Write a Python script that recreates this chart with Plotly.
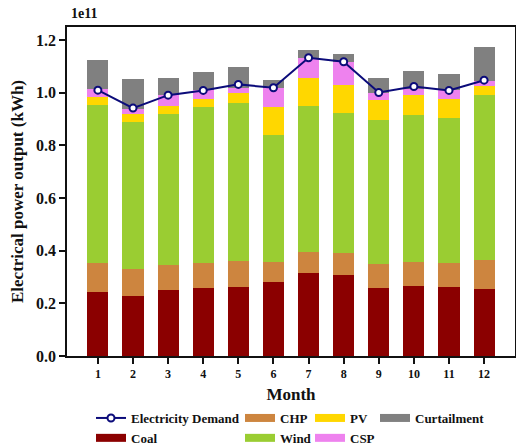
import plotly.graph_objects as go

# Monthly electricity generation by source (units of 1e11 kWh)
months = [1, 2, 3, 4, 5, 6, 7, 8, 9, 10, 11, 12]
coal = [0.242, 0.228, 0.251, 0.260, 0.263, 0.280, 0.314, 0.309, 0.257, 0.265, 0.261, 0.254]
chp = [0.110, 0.102, 0.096, 0.092, 0.098, 0.076, 0.083, 0.083, 0.093, 0.092, 0.093, 0.112]
wind = [0.600, 0.559, 0.573, 0.594, 0.602, 0.485, 0.552, 0.531, 0.547, 0.559, 0.552, 0.624]
pv = [0.032, 0.032, 0.028, 0.031, 0.036, 0.105, 0.107, 0.105, 0.074, 0.076, 0.072, 0.037]
csp = [0.030, 0.019, 0.044, 0.032, 0.020, 0.074, 0.078, 0.090, 0.030, 0.023, 0.031, 0.019]
curtailment = [0.110, 0.113, 0.066, 0.070, 0.080, 0.028, 0.029, 0.029, 0.056, 0.067, 0.064, 0.128]
demand = [1.010, 0.942, 0.991, 1.009, 1.032, 1.019, 1.133, 1.118, 1.001, 1.024, 1.009, 1.048]

y_ticks = [0.0, 0.2, 0.4, 0.6, 0.8, 1.0, 1.2]

SERIF = "Liberation Serif"

# (name, values, colour, legend column)
sources = [
    ("Coal", coal, "#8B0000", "legend"),
    ("CHP", chp, "#CD853F", "legend2"),
    ("Wind", wind, "#9ACD32", "legend2"),
    ("PV", pv, "#FFD700", "legend3"),
    ("CSP", csp, "#EE82EE", "legend3"),
    ("Curtailment", curtailment, "#808080", "legend4"),
]

fig = go.Figure()

for name, vals, color, _ in sources:
    fig.add_trace(go.Bar(
        x=months, y=vals, name=name, width=0.6,
        marker=dict(color=color, line=dict(width=0)),
        showlegend=False, legendgroup=name,
    ))

fig.add_trace(go.Scatter(
    x=months, y=demand, name="Electricity Demand", mode="lines+markers",
    line=dict(color="#0b0b7a", width=2),
    marker=dict(symbol="circle", size=7, color="white",
                line=dict(color="#0b0b7a", width=2)),
    legend="legend", legendrank=1,
))

# Wide rectangular legend keys for the stacked sources
ranks = {"Coal": 2, "CHP": 1, "Wind": 2, "PV": 1, "CSP": 2, "Curtailment": 1}
for name, vals, color, leg in sources:
    fig.add_trace(go.Scatter(
        x=[None], y=[None], name=name, mode="lines",
        line=dict(color=color, width=8),
        legend=leg, legendrank=ranks[name], legendgroup=name,
    ))

# Plot area in pixels: x 67..515, y 27..356
PL, PW, PB, PH = 67, 448, 356, 329


def px_x(px):
    return (px - PL) / PW


def px_y(py):
    return (PB - py) / PH


legend_font = dict(family=SERIF, size=13, color="#111", weight="bold")
legend_common = dict(
    xref="paper", yref="paper", yanchor="top", xanchor="left",
    orientation="v", font=legend_font, bgcolor="rgba(0,0,0,0)",
    borderwidth=0, itemwidth=30, tracegroupgap=0, itemclick=False,
)
legend_top = px_y(403)
fig.update_layout(
    barmode="stack",
    width=516, height=448,
    margin=dict(l=PL, r=516 - PL - PW, t=PB - PH, b=448 - PB, autoexpand=False),
    plot_bgcolor="white", paper_bgcolor="white",
    font=dict(family=SERIF, color="#111", weight="bold"),
    legend=dict(x=px_x(91), y=legend_top, **legend_common),
    legend2=dict(x=px_x(240), y=legend_top, **legend_common),
    legend3=dict(x=px_x(310), y=legend_top, **legend_common),
    legend4=dict(x=px_x(375), y=legend_top, **legend_common),
)

axis_line = dict(showline=True, linecolor="#111", linewidth=1.5, mirror=True,
                 ticks="outside", ticklen=6, tickwidth=1.5, tickcolor="#111",
                 showgrid=False, zeroline=False)

fig.update_xaxes(
    range=[0.12, 12.88], tickvals=months, ticktext=[str(m) for m in months],
    tickfont=dict(family=SERIF, size=12, weight="bold"),
    title=dict(text="Month", font=dict(family=SERIF, size=17, weight="bold"), standoff=8),
    **axis_line,
)
fig.update_yaxes(
    range=[0, 1.25], tickvals=y_ticks, ticktext=[f"{v:.1f}" for v in y_ticks],
    tickfont=dict(family=SERIF, size=16, weight="bold"),
    title=dict(text="Electrical power output (kWh)",
               font=dict(family=SERIF, size=17, weight="bold"), standoff=8),
    **axis_line,
)

# Scale factor shown above the value axis
fig.add_annotation(
    text="1e11", xref="paper", yref="paper", x=0, y=1, xanchor="left", yanchor="bottom",
    xshift=2, yshift=4, showarrow=False,
    font=dict(family=SERIF, size=14, weight="bold", color="#111"),
)

fig.write_html("out.html")
